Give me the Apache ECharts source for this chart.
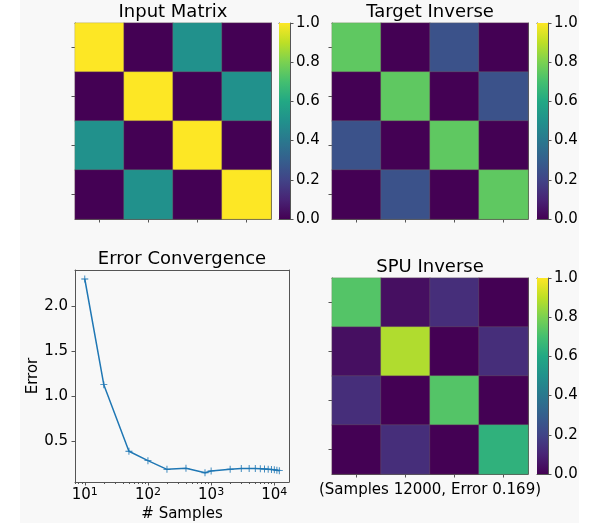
<!DOCTYPE html>
<html>
<head>
<meta charset="utf-8">
<script src="https://cdn.jsdelivr.net/npm/echarts@6/dist/echarts.min.js"></script>
<style>
  html, body { margin: 0; padding: 0; background: #fff; }
  #main {
    width: 599px; height: 523px;
    background: linear-gradient(to right, #fff 20px, #f8f8f8 20px, #f8f8f8 579px, #fff 579px);
  }
</style>
</head>
<body>
<div id="main"></div>
<script>
// matrix data (rows top -> bottom)
var matrixIndex = ['0', '1', '2', '3'];
var inputMatrix = [
	[1.0, 0.0, 0.5, 0.0],
	[0.0, 1.0, 0.0, 0.5],
	[0.5, 0.0, 1.0, 0.0],
	[0.0, 0.5, 0.0, 1.0]
];
var targetInverse = [
	[0.75, 0.0, 0.25, 0.0],
	[0.0, 0.75, 0.0, 0.25],
	[0.25, 0.0, 0.75, 0.0],
	[0.0, 0.25, 0.0, 0.75]
];
var spuInverse = [
	[0.73, 0.04, 0.13, 0.0],
	[0.04, 0.88, 0.0, 0.13],
	[0.13, 0.0, 0.73, 0.0],
	[0.0, 0.13, 0.0, 0.64]
];

// error convergence
var errSamples = [10, 20, 50, 100, 200, 400, 800, 1000, 2000, 3000, 4000, 5000, 6000, 7000, 8000, 9000, 10000, 11000, 12000];
var errValues = [2.30, 1.125, 0.385, 0.28, 0.184, 0.195, 0.146, 0.166, 0.185, 0.192, 0.194, 0.193, 0.191, 0.188, 0.185, 0.182, 0.178, 0.174, 0.169];

// tick labels
var cbarTicks = [0, 0.2, 0.4, 0.6, 0.8, 1.0];
var errYTicks = [0.5, 1.0, 1.5, 2.0];
var errXMajor = [10, 100, 1000, 10000];
var errXMinor = [7, 8, 9, 20, 30, 40, 50, 60, 70, 80, 90, 200, 300, 400, 500, 600, 700, 800, 900, 2000, 3000, 4000, 5000, 6000, 7000, 8000, 9000];

var viridis = ['#440154', '#482475', '#414487', '#355f8d', '#2a788e', '#21918c', '#22a884', '#44bf70', '#7ad151', '#bddf26', '#fde725'];

var FONT = 'DejaVu Sans';
var SPINE = '#555';
var TICK_FS = 15;

var chart = echarts.init(document.getElementById('main'));

function toCells(m) {
	var out = [];
	m.forEach(function (row, r) {
		row.forEach(function (v, c) {
			out.push([c, r, v]);
		});
	});
	return out;
}

var grids = [
	{left: 75, top: 23, width: 196, height: 196},   // input
	{left: 332, top: 23, width: 196, height: 196},  // target
	{left: 332, top: 278, width: 196, height: 196}, // spu
	{left: 75, top: 270, width: 214, height: 212},  // error
	{left: 279, top: 23, width: 11, height: 196},   // colorbars
	{left: 537, top: 23, width: 11, height: 196},
	{left: 537, top: 278, width: 11, height: 196}
];

var xAxes = [];
var yAxes = [];
var series = [];

var lineStyle = {color: SPINE, width: 1};
var tickStyle = {color: SPINE, width: 1};

// line-only axes to close the box on top / right (or left)
function frameX(g) {
	xAxes.push({gridIndex: g, type: 'value', min: 0, max: 1, position: 'top',
		axisLine: {show: true, onZero: false, lineStyle: lineStyle},
		axisTick: {show: false}, axisLabel: {show: false}, splitLine: {show: false}});
}
function frameY(g, pos) {
	yAxes.push({gridIndex: g, type: 'value', min: 0, max: 1, position: pos,
		axisLine: {show: true, onZero: false, lineStyle: lineStyle},
		axisTick: {show: false}, axisLabel: {show: false}, splitLine: {show: false}});
}

// heatmaps
[inputMatrix, targetInverse, spuInverse].forEach(function (m, g) {
	var xi = xAxes.length;
	xAxes.push({gridIndex: g, type: 'category', data: matrixIndex, position: 'bottom',
		axisLine: {show: true, onZero: false, lineStyle: lineStyle},
		axisTick: {show: true, alignWithLabel: true, length: 3.5, lineStyle: tickStyle},
		axisLabel: {show: false}, splitLine: {show: false}, splitArea: {show: false}});
	var yi = yAxes.length;
	yAxes.push({gridIndex: g, type: 'category', data: matrixIndex, inverse: true, position: 'left',
		axisLine: {show: true, onZero: false, lineStyle: lineStyle},
		axisTick: {show: true, alignWithLabel: true, length: 3.5, lineStyle: tickStyle},
		axisLabel: {show: false}, splitLine: {show: false}, splitArea: {show: false}});
	frameX(g);
	frameY(g, 'right');
	series.push({
		type: 'heatmap', xAxisIndex: xi, yAxisIndex: yi,
		data: toCells(m),
		itemStyle: {borderColor: 'rgba(128,118,100,0.35)', borderWidth: 0.8},
		emphasis: {disabled: true},
		z: 1
	});
});

// error convergence
var exi = xAxes.length;
xAxes.push({gridIndex: 3, type: 'log', logBase: 10, min: 7.0, max: 17100, position: 'bottom',
	name: '# Samples', nameLocation: 'middle', nameGap: 25,
	nameTextStyle: {fontFamily: FONT, fontSize: TICK_FS, color: '#000'},
	axisLine: {show: true, onZero: false, lineStyle: lineStyle},
	axisTick: {show: true, length: 3.5, lineStyle: tickStyle, customValues: errXMajor},
	axisLabel: {
		show: true, margin: 5, customValues: errXMajor,
		fontFamily: FONT, fontSize: TICK_FS, color: '#000',
		formatter: function (v) { return '10{s|' + Math.round(Math.log10(v)) + '}'; },
		rich: {s: {fontFamily: FONT, fontSize: 11, color: '#000', verticalAlign: 'top', padding: [0, 0, 6, 0]}}
	},
	splitLine: {show: false}, minorTick: {show: false}});
xAxes.push({gridIndex: 3, type: 'log', logBase: 10, min: 7.0, max: 17100, position: 'bottom',
	axisLine: {show: false},
	axisTick: {show: true, length: 2, lineStyle: tickStyle, customValues: errXMinor},
	axisLabel: {show: false}, splitLine: {show: false}});
frameX(3);
var eyi = yAxes.length;
yAxes.push({gridIndex: 3, type: 'value', min: 0.043, max: 2.40, position: 'left',
	name: 'Error', nameLocation: 'middle', nameGap: 33, nameRotate: 90,
	nameTextStyle: {fontFamily: FONT, fontSize: TICK_FS, color: '#000'},
	axisLine: {show: true, onZero: false, lineStyle: lineStyle},
	axisTick: {show: true, length: 3.5, lineStyle: tickStyle, customValues: errYTicks},
	axisLabel: {show: true, margin: 7, customValues: errYTicks, fontFamily: FONT, fontSize: TICK_FS, color: '#000',
		formatter: function (v) { return v.toFixed(1); }},
	splitLine: {show: false}});
frameY(3, 'right');
series.push({
	type: 'line', xAxisIndex: exi, yAxisIndex: eyi,
	data: errSamples.map(function (s, i) { return [s, errValues[i]]; }),
	lineStyle: {color: '#1f77b4', width: 1.5},
	itemStyle: {color: '#1f77b4'},
	symbol: 'path://M4.4,0H5.6V4.4H10V5.6H5.6V10H4.4V5.6H0V4.4H4.4Z',
	symbolSize: 7,
	showSymbol: true,
	animation: false,
	emphasis: {disabled: true}
});

// colorbars
var cbarGradient = new echarts.graphic.LinearGradient(0, 1, 0, 0,
	viridis.map(function (c, i) { return {offset: i / (viridis.length - 1), color: c}; }));
[4, 5, 6].forEach(function (g) {
	var xi = xAxes.length;
	xAxes.push({gridIndex: g, type: 'category', data: ['cbar'], position: 'bottom',
		axisLine: {show: true, onZero: false, lineStyle: lineStyle},
		axisTick: {show: false}, axisLabel: {show: false}, splitLine: {show: false}});
	frameX(g);
	var yi = yAxes.length;
	yAxes.push({gridIndex: g, type: 'value', min: 0, max: 1, interval: 0.2, position: 'right',
		axisLine: {show: true, onZero: false, lineStyle: lineStyle},
		axisTick: {show: true, length: 3.5, lineStyle: tickStyle},
		axisLabel: {show: true, margin: 6, fontFamily: FONT, fontSize: TICK_FS, color: '#000',
			formatter: function (v) { return v.toFixed(1); }},
		splitLine: {show: false}});
	frameY(g, 'left');
	series.push({
		type: 'bar', xAxisIndex: xi, yAxisIndex: yi,
		data: [cbarTicks[cbarTicks.length - 1]],
		barWidth: '100%',
		itemStyle: {color: cbarGradient},
		emphasis: {disabled: true},
		z: 1
	});
});

var titleStyle = {fontFamily: FONT, fontSize: 18, fill: '#000', textAlign: 'center', textVerticalAlign: 'middle'};
function label(x, y, text, size) {
	return {type: 'text', x: x, y: y, z: 10,
		style: Object.assign({}, titleStyle, {text: text, fontSize: size || 18})};
}

chart.setOption({
	animation: false,
	grid: grids,
	xAxis: xAxes,
	yAxis: yAxes,
	visualMap: {
		type: 'continuous', show: false, min: 0, max: 1,
		seriesIndex: [0, 1, 2],
		inRange: {color: viridis}
	},
	graphic: [
		label(173, 12, 'Input Matrix'),
		label(430, 12, 'Target Inverse'),
		label(182, 259, 'Error Convergence'),
		label(430, 267, 'SPU Inverse'),
		label(430, 490, '(Samples 12000, Error 0.169)', TICK_FS)
	],
	series: series
});
</script>
</body>
</html>
